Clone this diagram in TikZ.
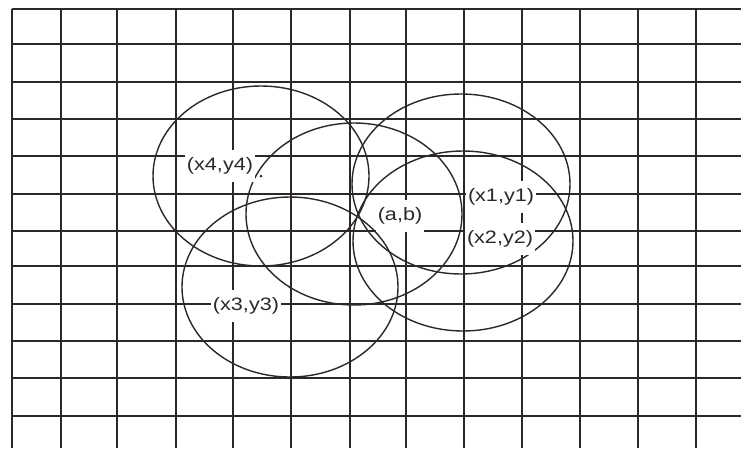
\documentclass[tikz,border=0pt]{standalone}
\usepackage{fontspec}
\usepackage{graphicx}
\setmainfont{Liberation Sans}
\definecolor{ink}{RGB}{45,40,40}
\begin{document}
\begin{tikzpicture}[x=1pt,y=-1pt,
  gridline/.style={ink,line width=1.7pt},
  ring/.style={ink,line width=1.4pt},
  lbl/.style={fill=white,inner xsep=2pt,inner ysep=8pt,font=\fontsize{18}{20}\selectfont,text=ink},
  ctr/.style={circle,fill=ink,inner sep=0pt,minimum size=3pt}]
\useasboundingbox (0,0) rectangle (741,448);
\fill[white] (0,0) rectangle (741,448);
\begin{scope}
\clip (0,0) rectangle (741,448);
\foreach \x in {12,61,117,176,233,291,350,406,464,522,580,638,696}
  \draw[gridline] (\x,9) -- (\x,448);
\foreach \y in {9,44,82,119,156,194,231,266,304,341,378,416}
  \draw[gridline] (12,\y) -- (741,\y);
\end{scope}
% circles (drawn stretched, as in the reference)
\coordinate (C4) at (261,176);
\coordinate (C1) at (461,184);
\coordinate (C2) at (463,241);
\coordinate (C3) at (290,287);
\coordinate (AB) at (354,214);
\draw[ring] (C4) ellipse [x radius=108pt, y radius=90pt];
\draw[ring] (AB) ellipse [x radius=108pt, y radius=91pt];
\draw[ring] (C1) ellipse [x radius=109pt, y radius=90pt];
\draw[ring] (C2) ellipse [x radius=110pt, y radius=90pt];
\draw[ring] (C3) ellipse [x radius=108pt, y radius=90pt];
% labels
\node[lbl] (l4) at (220,166) {\scalebox{1.2}[1]{(x4,y4)}};
\node[lbl] (l3) at (246,306) {\scalebox{1.2}[1]{(x3,y3)}};
\node[lbl] (lab) at (400,216) {\scalebox{1.2}[1]{(a,b)}};
\node[lbl] (l1) at (501,197) {\scalebox{1.2}[1]{(x1,y1)}};
\node[lbl] (l2) at (500,239) {\scalebox{1.2}[1]{(x2,y2)}};
% centre marks
\node[ctr] (d4) at (C4) {};
\node[ctr] (d3) at (C3) {};
\end{tikzpicture}
\end{document}
